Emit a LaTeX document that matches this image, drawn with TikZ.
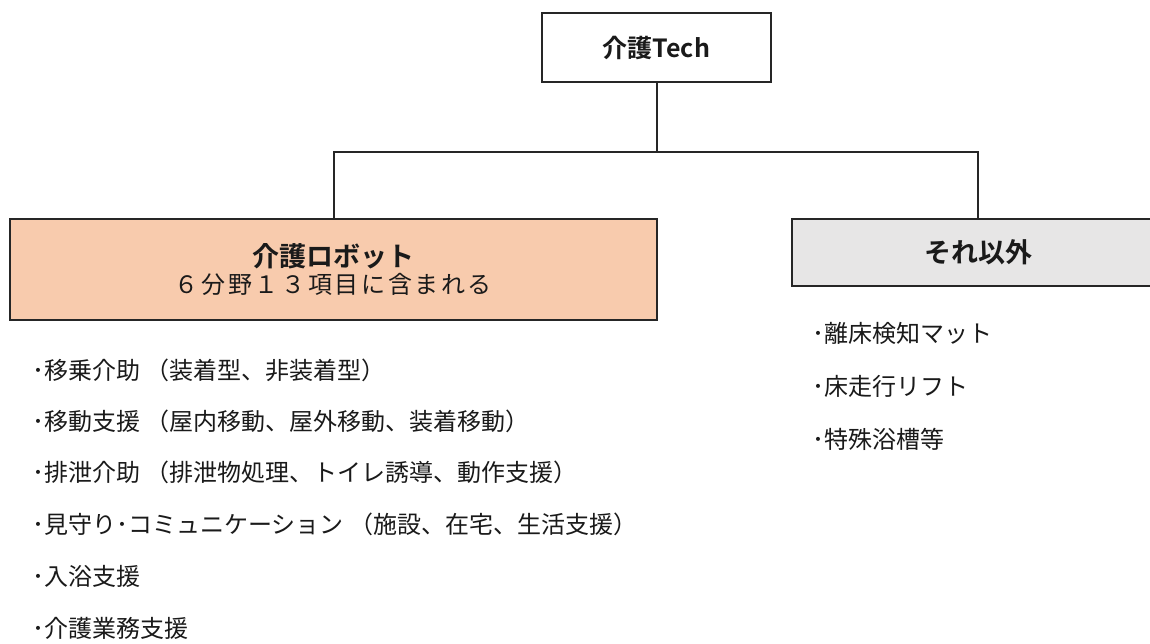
\documentclass[tikz,border=0pt]{standalone}
\usepackage{fontspec}
\setmainfont{Noto Sans CJK JP}
\newfontfamily\jpb{Noto Sans CJK JP Bold}
\definecolor{peach}{HTML}{F8CBAD}
\definecolor{lgray}{HTML}{E7E6E6}
\definecolor{ink}{HTML}{1A1A1A}
\definecolor{edge}{HTML}{262626}
\begin{document}
\begin{tikzpicture}[x=1pt,y=1pt,
  box/.style={draw=edge,line width=2.2pt,inner sep=0pt,text=ink},
  link/.style={draw=edge,line width=2pt},
  item/.style={anchor=west,inner sep=0pt,text=ink,font=\fontsize{24}{28}\selectfont}]
\useasboundingbox (0,0) rectangle (1150,-643);
\fill[white] (0,0) rectangle (1150,-643);
\node[box,fill=white,minimum width=229,minimum height=69,font=\jpb\fontsize{25}{28}\selectfont] (top) at (656.5,-47.5) {介護Tech};
\node[box,fill=peach,line width=2.6pt,minimum width=647,minimum height=101,align=center] (robot) at (333.5,-269.5)
  {{\jpb\fontsize{27}{30}\selectfont 介護ロボット}\\[3pt]{\fontsize{24}{28}\selectfont\addfontfeature{LetterSpace=11}６分野１３項目に含まれる}};
\node[box,fill=lgray,minimum width=372,minimum height=67,font=\jpb\fontsize{27}{30}\selectfont] (other) at (978,-252.5) {それ以外};
\coordinate (j) at (656.5,-152);
\draw[link] (top.south) -- (j);
\draw[link] (j) -| (robot.north);
\draw[link] (j) -| (other.north);
\node[item] (l1) at (32,-370) {･移乗介助 （装着型、非装着型）};
\node[item] (l2) at (32,-421) {･移動支援 （屋内移動、屋外移動、装着移動）};
\node[item] (l3) at (32,-472) {･排泄介助 （排泄物処理、トイレ誘導、動作支援）};
\node[item] (l4) at (32,-524) {･見守り･コミュニケーション （施設、在宅、生活支援）};
\node[item] (l5) at (32,-576) {･入浴支援};
\node[item] (l6) at (32,-628) {･介護業務支援};
\node[item] (r1) at (812,-333) {･離床検知マット};
\node[item] (r2) at (812,-386) {･床走行リフト};
\node[item] (r3) at (812,-439) {･特殊浴槽等};
\end{tikzpicture}
\end{document}
